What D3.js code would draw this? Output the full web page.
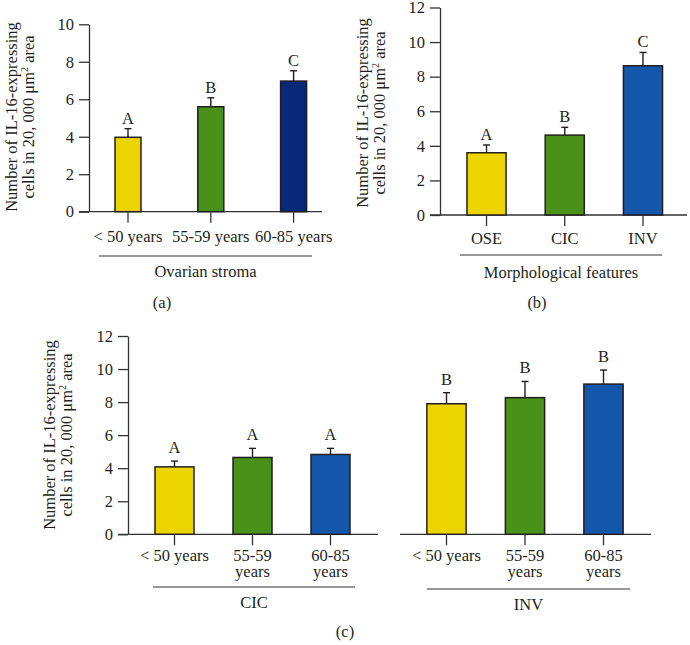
<!DOCTYPE html>
<html>
<head>
<meta charset="utf-8">
<script src="https://cdn.jsdelivr.net/npm/d3@7"></script>
<style>
  html, body { margin: 0; padding: 0; background: #fff; }
  svg { display: block; }
  text { font-family: "Liberation Serif", "Times New Roman", serif; fill: #231f20; }
</style>
</head>
<body>
<svg id="chart"></svg>
<script>
// ---- data ----
const ageGroups = ["< 50 years", "55-59 years", "60-85 years"];
const ageGroupsWrapped = ["< 50 years", "55-59\nyears", "60-85\nyears"];
const morphGroups = ["OSE", "CIC", "INV"];

const stromaValues = [3.97, 5.6, 6.97];
const stromaErrors = [0.46, 0.48, 0.55];
const stromaLetters = ["A", "B", "C"];

const morphValues = [3.6, 4.62, 8.63];
const morphErrors = [0.45, 0.45, 0.77];
const morphLetters = ["A", "B", "C"];

const cicValues = [4.08, 4.65, 4.83];
const cicErrors = [0.35, 0.55, 0.37];
const cicLetters = ["A", "A", "A"];

const invValues = [7.9, 8.27, 9.09];
const invErrors = [0.67, 0.98, 0.85];
const invLetters = ["B", "B", "B"];

const yTicksA = [0, 2, 4, 6, 8, 10];
const yTicks12 = [0, 2, 4, 6, 8, 10, 12];

const COLORS_A = ["#ecd400", "#4a9119", "#08297a"];
const COLORS = ["#ecd400", "#4a9119", "#1456aa"];

const W = 690, H = 645;
const FONT = 16.5;
const INK = "#231f20";

const svg = d3.select("#chart").attr("width", W).attr("height", H);

function drawPanel(p) {
  const g = svg.append("g");

  const y = d3.scaleLinear().domain([0, p.yMax]).range([p.y0, p.yTop]);
  const x = d3.scaleBand()
    .domain(p.categories)
    .range(p.xRange)
    .paddingInner(p.pad)
    .paddingOuter(p.pad / 2);

  // y axis (only where the reference has one)
  if (p.yAxisX != null) {
    const yAxis = d3.axisLeft(y).tickValues(p.yTicks).tickSize(10).tickPadding(5).tickSizeOuter(0);
    const ya = g.append("g").attr("transform", `translate(${p.yAxisX},0)`).call(yAxis);
    ya.select(".domain").attr("stroke", "#333").attr("stroke-width", 1.3);
    ya.selectAll(".tick line").attr("stroke", "#333").attr("stroke-width", 1.3);
    ya.selectAll(".tick text")
      .style("font-family", "Liberation Serif")
      .style("font-size", FONT + "px")
      .attr("fill", INK);

    // y label, two lines
    const lbl = g.append("text")
      .attr("transform", `translate(${p.yLabelX},${p.yLabelY}) rotate(-90)`)
      .attr("text-anchor", "middle")
      .style("font-size", FONT + "px");
    lbl.append("tspan").attr("x", 0).attr("dy", 0).text("Number of IL-16-expressing");
    lbl.append("tspan").attr("x", 0).attr("dy", 16.5).text("cells in 20, 000 μm");
    lbl.append("tspan").attr("dy", -6).style("font-size", "10px").text("2");
    lbl.append("tspan").attr("dy", 6).text(" area");
  }

  // x baseline
  g.append("line")
    .attr("x1", p.xLine[0]).attr("x2", p.xLine[1])
    .attr("y1", y(0)).attr("y2", y(0))
    .attr("stroke", "#333").attr("stroke-width", 1.3);

  const rows = p.categories.map((c, i) => ({
    c, v: p.values[i], e: p.errors[i], l: p.letters[i], col: p.colors[i]
  }));

  // error bars (upper only)
  const cx = d => x(d.c) + x.bandwidth() / 2;
  g.selectAll(".err").data(rows).enter().append("line")
    .attr("x1", cx).attr("x2", cx)
    .attr("y1", d => y(d.v)).attr("y2", d => y(d.v + d.e))
    .attr("stroke", INK).attr("stroke-width", 1.4);
  g.selectAll(".cap").data(rows).enter().append("line")
    .attr("x1", d => cx(d) - 3.5).attr("x2", d => cx(d) + 3.5)
    .attr("y1", d => y(d.v + d.e)).attr("y2", d => y(d.v + d.e))
    .attr("stroke", INK).attr("stroke-width", 1.4);

  // bars
  g.selectAll(".bar").data(rows).enter().append("rect")
    .attr("x", d => x(d.c))
    .attr("width", x.bandwidth())
    .attr("y", d => y(d.v))
    .attr("height", d => y(0) - y(d.v))
    .attr("fill", d => d.col)
    .attr("stroke", INK)
    .attr("stroke-width", 1.5);

  // significance letters
  g.selectAll(".sig").data(rows).enter().append("text")
    .attr("x", cx)
    .attr("y", d => y(d.v + d.e) - p.letterGap)
    .attr("text-anchor", "middle")
    .style("font-size", FONT + "px")
    .text(d => d.l);

  // x ticks
  g.selectAll(".xtick").data(rows).enter().append("line")
    .attr("x1", cx).attr("x2", cx)
    .attr("y1", y(0)).attr("y2", y(0) + 11)
    .attr("stroke", "#333").attr("stroke-width", 1.3);

  // x tick labels (may wrap onto two lines)
  const xl = g.selectAll(".xlab").data(rows).enter().append("text")
    .attr("text-anchor", "middle")
    .attr("y", p.xLabelY)
    .style("font-size", FONT + "px");
  xl.each(function (d) {
    const t = d3.select(this);
    d.c.split("\n").forEach((s, k) => {
      t.append("tspan").attr("x", cx(d)).attr("dy", k === 0 ? 0 : 15.5).text(s);
    });
  });

  // group line + label
  g.append("line")
    .attr("x1", p.groupLine[0]).attr("x2", p.groupLine[1])
    .attr("y1", p.groupLineY).attr("y2", p.groupLineY)
    .attr("stroke", "#333").attr("stroke-width", 1.2);
  g.append("text")
    .attr("x", (p.groupLine[0] + p.groupLine[1]) / 2)
    .attr("y", p.groupLabelY)
    .attr("text-anchor", "middle")
    .style("font-size", FONT + "px")
    .text(p.group);
}

// (a) ovarian stroma
drawPanel({
  categories: ageGroups, values: stromaValues, errors: stromaErrors, letters: stromaLetters,
  colors: COLORS_A, yMax: 10, yTicks: yTicksA,
  y0: 211.7, yTop: 24.3, yAxisX: 89, yLabelX: 17, yLabelY: 117,
  xRange: [86.6, 335], pad: 0.686, xLine: [79, 322],
  letterGap: 5, xLabelY: 242,
  groupLine: [99, 312], groupLineY: 256, groupLabelY: 277, group: "Ovarian stroma"
});

// (b) morphological features
drawPanel({
  categories: morphGroups, values: morphValues, errors: morphErrors, letters: morphLetters,
  colors: COLORS, yMax: 12, yTicks: yTicks12,
  y0: 215, yTop: 7.5, yAxisX: 440, yLabelX: 368, yLabelY: 113,
  xRange: [447.4, 682.1], pad: 0.5, xLine: [430, 687],
  letterGap: 5, xLabelY: 244,
  groupLine: [460, 662], groupLineY: 255, groupLabelY: 278, group: "Morphological features"
});

// (c) left: CIC by age
drawPanel({
  categories: ageGroupsWrapped, values: cicValues, errors: cicErrors, letters: cicLetters,
  colors: COLORS, yMax: 12, yTicks: yTicks12,
  y0: 534.3, yTop: 336, yAxisX: 128, yLabelX: 55, yLabelY: 435,
  xRange: [135.5, 369.5], pad: 0.5, xLine: [118, 378],
  letterGap: 8, xLabelY: 561,
  groupLine: [153, 355], groupLineY: 587, groupLabelY: 608, group: "CIC"
});

// (c) right: INV by age (no y axis)
drawPanel({
  categories: ageGroupsWrapped, values: invValues, errors: invErrors, letters: invLetters,
  colors: COLORS, yMax: 12, yTicks: yTicks12,
  y0: 534.3, yTop: 336, yAxisX: null,
  xRange: [407.25, 642.75], pad: 0.5, xLine: [400, 651],
  letterGap: 8, xLabelY: 561,
  groupLine: [427, 630], groupLineY: 589, groupLabelY: 610, group: "INV"
});

// captions
const captions = [
  { t: "(a)", x: 162, y: 308 },
  { t: "(b)", x: 537, y: 308 },
  { t: "(c)", x: 345, y: 637 }
];
svg.selectAll(".cap-txt").data(captions).enter().append("text")
  .attr("x", d => d.x).attr("y", d => d.y)
  .attr("text-anchor", "middle")
  .style("font-size", FONT + "px")
  .text(d => d.t);
</script>
</body>
</html>
